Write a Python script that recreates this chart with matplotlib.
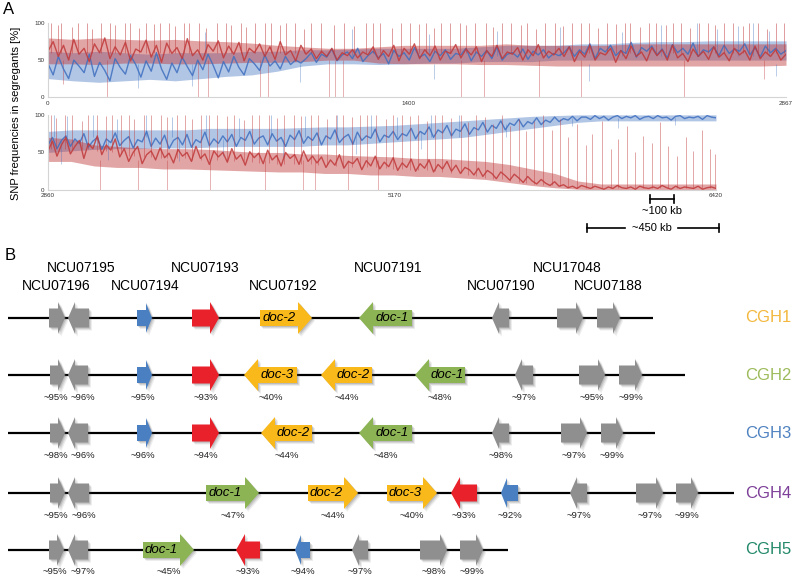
import numpy as np
import matplotlib
matplotlib.use('Agg')
import matplotlib.pyplot as plt
from matplotlib.patches import Polygon

plt.rcParams['font.family'] = ['Liberation Sans', 'DejaVu Sans']

# ---------------- PANEL A DATA ----------------
top_range = (0, 2867)
top_ticks = [0, 1400, 2867]
top_ticklabels = ['0', '1400', '2867']

# dense band of each trace (upper / lower edge)
top_red_hi = [80,78,80,78,77,78,76,75,73,70,68,66,66,68,70,70,70,70,72,70,70,70,70,72,72,72,72,72,72,72]
top_red_lo = [45,45,44,46,46,45,45,46,47,47,48,50,50,46,45,45,45,44,44,43,42,42,42,42,42,42,42,42,42,43]
top_blue_hi = [62,60,62,60,58,60,60,60,62,62,64,64,65,66,66,66,66,68,70,70,70,72,72,74,75,75,76,76,76,76]
top_blue_lo = [25,22,20,22,24,22,25,28,30,35,42,45,45,44,45,46,46,48,48,48,50,50,50,50,50,50,50,50,50,50]

top_red = [62,75,55,70,50,78,58,66,48,72,60,80,52,68,57,74,49,65,61,77,54,70,47,73,59,67,52,79,56,64,50,71,62,76,53,69,58,74,49,66,60,72,55,68,51,75,57,63,49,70,
           58,65,52,62,55,66,50,60,56,64,53,61,57,68,51,63,55,70,49,66,58,72,52,64,56,69,50,62,59,71,53,65,57,68,48,63,55,70,52,61,58,67,50,64,56,71,53,62,57,66,
           55,68,48,62,54,70,50,60,57,66,47,63,52,69,55,61,49,67,56,64,50,70,53,59,48,65,55,62,51,68,54,60,49,66,57,63,50,69,52,61,55,64,50,58]
top_blue = [45,30,55,38,25,50,42,33,58,28,47,36,22,52,40,31,56,44,27,49,35,60,38,24,46,33,54,41,29,50,37,58,43,26,48,34,55,40,30,52,45,36,57,42,49,38,55,44,50,46,
            52,60,47,58,54,65,49,57,61,52,66,48,56,62,53,59,45,63,55,60,50,67,54,58,48,62,56,64,51,59,57,66,49,61,55,63,52,68,50,58,60,54,65,51,62,57,64,53,59,56,
            60,68,55,64,58,72,52,66,61,70,56,63,59,74,54,67,62,69,57,65,53,71,60,66,58,73,55,64,61,68,56,70,59,65,62,72,57,67,54,69,60,66,58,63]

top_red_up_x = [12,38,52,95,118,150,172,205,240,262,300,318,352,380,410,436,470,492,530,548,
                585,612,655,690,712,748,770,805,842,866,900,925,960,995,1020,1060,1110,1150,1190,1235,
                1262,1290,1335,1372,1405,1440,1468,1500,1528,1562,1600,1625,1660,1702,1730,1765,1800,1838,1862,1895,
                1930,1968,2002,2035,2070,2100,2138,2170,2205,2240,2262,2300,2335,2362,2400,2428,2460,2495,2530,2565,
                2590,2625,2660,2700,2725,2760,2795,2830,2858]
top_red_up_top = [100,98,100,95,100,100,92,100,100,97,100,100,94,100,99,100,100,96,100,100,
                  100,93,100,100,98,100,95,100,100,100,97,100,100,92,100,100,98,100,96,100,
                  100,100,94,100,100,99,100,93,100,100,100,97,100,100,95,100,100,98,100,92,
                  100,100,96,100,100,100,94,100,99,100,100,95,100,100,98,100,100,93,100,100,
                  97,100,100,96,100,100,92,100,100]
top_red_up_base = 60
top_red_dn_x = [60, 228, 583, 622, 823, 854, 1093, 1116, 1147, 1603, 1692, 1909, 2071, 2469, 2780]
top_red_dn_bot = [18, 0, 0, 0, 0, 0, 0, 0, 0, 0, 0, 0, 0, 0, 25]
top_red_dn_base = 50
top_blue_up_x = [610, 1180, 1480, 1745, 1990, 2230, 2380, 2520, 2600, 2680, 2740, 2800]
top_blue_up_top = [88, 92, 85, 90, 95, 88, 97, 100, 92, 96, 100, 90]
top_blue_up_base = 55
top_blue_dn_x = [350, 560, 980, 1500, 2100, 2828]
top_blue_dn_bot = [12, 15, 20, 25, 22, 28]
top_blue_dn_base = 45

bot_range = (2860, 6420)
bot_ticks = [2860, 4710, 6420]
bot_ticklabels = ['2860', '5170', '6420']

bot_blue_hi = [78,80,80,80,80,80,80,82,82,82,82,83,84,84,85,86,88,90,92,94,96,98,99,100,100,100,100,100,100,100]
bot_blue_lo = [50,52,54,55,55,56,56,57,58,58,58,58,60,60,62,64,66,68,70,74,78,82,86,90,92,92,92,92,92,92]
bot_red_hi = [70,68,60,58,56,55,55,54,52,50,50,48,48,46,45,44,42,42,40,38,34,28,22,12,8,8,8,8,8,8]
bot_red_lo = [38,38,32,30,30,28,28,27,26,25,24,24,22,22,20,20,18,18,16,14,10,6,3,1,0,0,0,0,0,0]

bot_blue = [60,70,55,66,72,58,68,62,75,57,65,70,54,68,63,76,59,66,71,56,67,64,78,58,69,61,73,55,66,70,60,74,57,67,63,77,59,68,62,72,
            64,74,58,70,66,78,61,69,72,60,75,65,70,58,73,67,79,62,71,66,76,60,72,68,80,63,70,74,61,77,66,72,69,81,64,73,70,78,67,75,
            72,82,68,78,74,84,70,80,76,86,72,81,78,88,74,83,80,90,77,86,
            82,92,80,89,86,94,84,91,88,96,87,93,90,97,91,95,93,98,92,97,
            97,94,99,95,98,93,97,99,95,98,96,99,94,97,98,95,99,96,97,93,98,99,95,97,96,98,94,99,97,96]
bot_red = [52,65,45,60,70,48,58,66,42,62,55,72,47,60,53,68,
           44,55,38,50,58,35,47,52,40,56,43,49,36,54,45,50,38,58,42,48,34,52,44,50,37,55,41,47,33,51,43,49,35,53,40,46,32,50,42,47,34,52,38,45,
           36,44,30,40,33,47,29,38,35,42,27,39,32,45,28,37,31,43,26,36,30,41,25,35,29,40,24,34,28,38,
           25,33,22,30,27,20,29,18,26,22,15,24,19,13,21,16,10,18,12,8,14,9,6,11,5,
           7,3,5,2,6,4,2,5,3,1,4,2,6,3,2,4,1,5,3,2,4,2,6,3,1,5,2,4,3,2,5,1,3,4,2]

bot_red_up_x = [2875,2905,2950,2990,3040,3075,3120,3170,3200,3250,3290,3320,3370,3410,3460,3495,3545,3590,3625,3675,
                3720,3760,3815,3850,3905,3945,3985,4040,4080,4120,4170,4210,4260,4300,4345,4395,4430,4480,4525,4560,
                4610,4660,4700,4745,4790,4830,4880,4925,4960,5010,5060,5100,5140,5190,5230,5280,5320,5370,5410,5450,
                5500,5545,5590,5630,5680,5725,5760,5810,5860,5900,5945,5990,6030,6080,6120,6165,6210,6260,6300,6345,
                6390,6415]
bot_red_up_lo = [55,55,55,55,55,55,52,52,50,48,45,45,44,44,43,43,42,42,40,40,
                 40,40,38,38,38,37,36,36,35,35,35,34,34,33,33,32,32,31,30,30,
                 30,29,28,28,27,26,26,25,24,22,22,20,18,16,15,14,12,10,9,8,
                 7,6,5,4,3,3,2,2,2,2,2,2,2,2,2,2,2,2,2,2,
                 2,2]
bot_red_up_top = [100,96,100,100,92,100,100,98,100,100,100,94,100,100,100,97,100,100,95,100,
                  100,100,98,100,93,100,100,100,96,100,100,98,100,100,94,100,100,97,100,100,
                  100,95,100,100,98,100,92,100,100,96,100,90,100,97,88,100,85,95,78,92,
                  100,80,95,70,88,60,75,92,55,68,85,50,72,62,90,58,45,70,52,80,
                  55,48]
bot_red_dn_x = [3137, 3340, 3494, 3723, 4017, 4219, 4283, 4459, 4619]
bot_red_dn_base = 40
bot_blue_up_x = [2890, 2960, 3100, 3230, 3380, 3520, 3700, 3880, 4050, 4230, 4400, 4580, 4720, 4900, 5050]
bot_blue_up_top = [100, 98, 100, 95, 100, 97, 100, 96, 100, 98, 100, 100, 97, 100, 100]
bot_blue_up_base = 70
bot_blue_dn_x = [2930, 3180, 3560, 3790, 4110, 4500, 4850, 5300, 5650, 5900, 6200]
bot_blue_dn_bot = [35, 40, 38, 45, 42, 48, 55, 70, 85, 82, 86]
bot_blue_dn_top = [65, 65, 66, 68, 68, 72, 78, 88, 96, 96, 96]

# ---------------- PANEL B DATA ----------------
row_names = ['CGH1', 'CGH2', 'CGH3', 'CGH4', 'CGH5']
row_colors = ['#f3b83d', '#9dbb5b', '#4f82c0', '#7d3f98', '#23896a']
row_y = [318, 375, 433, 493, 550]
row_end = [653, 685, 655, 734, 508]

# (left, right, strand, kind, name, identity, identity label shift)
cgh1 = [(49, 65, 1, 'gray', '', '', 0), (68, 89, -1, 'gray', '', '', 0), (137, 152, 1, 'blue', '', '', 0),
        (192, 219, 1, 'red', '', '', 0), (260, 312, 1, 'yellow', 'doc-2', '', 0),
        (359, 412, -1, 'green', 'doc-1', '', 0), (492, 509, -1, 'gray', '', '', 0),
        (557, 583, 1, 'gray', '', '', 0), (597, 620, 1, 'gray', '', '', 0)]
cgh2 = [(50, 65, 1, 'gray', '', '~95%', -2), (68, 88, -1, 'gray', '', '~96%', 5), (137, 152, 1, 'blue', '', '~95%', -2),
        (192, 219, 1, 'red', '', '~93%', 0), (244, 297, -1, 'yellow', 'doc-3', '~40%', 0),
        (321, 372, -1, 'yellow', 'doc-2', '~44%', 0), (415, 465, -1, 'green', 'doc-1', '~48%', 0),
        (515, 533, -1, 'gray', '', '~97%', 0), (579, 605, 1, 'gray', '', '~95%', 0), (619, 642, 1, 'gray', '', '~99%', 0)]
cgh3 = [(50, 65, 1, 'gray', '', '~98%', -2), (68, 88, -1, 'gray', '', '~96%', 5), (137, 152, 1, 'blue', '', '~96%', -2),
        (192, 219, 1, 'red', '', '~94%', 0), (261, 312, -1, 'yellow', 'doc-2', '~44%', 0),
        (359, 412, -1, 'green', 'doc-1', '~48%', 0), (492, 509, -1, 'gray', '', '~98%', 0),
        (561, 587, 1, 'gray', '', '~97%', 0), (601, 623, 1, 'gray', '', '~99%', 0)]
cgh4 = [(50, 65, 1, 'gray', '', '~95%', -2), (68, 89, -1, 'gray', '', '~96%', 5), (206, 259, 1, 'green', 'doc-1', '~47%', 0),
        (308, 358, 1, 'yellow', 'doc-2', '~44%', 0), (387, 437, 1, 'yellow', 'doc-3', '~40%', 0),
        (451, 477, -1, 'red', '', '~93%', 0), (501, 518, -1, 'blue', '', '~92%', 0), (570, 587, -1, 'gray', '', '~97%', 0),
        (636, 663, 1, 'gray', '', '~97%', 0), (676, 698, 1, 'gray', '', '~99%', 0)]
cgh5 = [(49, 64, 1, 'gray', '', '~95%', -2), (68, 88, -1, 'gray', '', '~97%', 5), (143, 194, 1, 'green', 'doc-1', '~45%', 0),
        (236, 260, -1, 'red', '', '~93%', 0), (295, 310, -1, 'blue', '', '~94%', 0), (352, 368, -1, 'gray', '', '~97%', 0),
        (420, 447, 1, 'gray', '', '~98%', 0), (460, 483, 1, 'gray', '', '~99%', 0)]
rows = [cgh1, cgh2, cgh3, cgh4, cgh5]

gene_names = ['NCU07195', 'NCU07196', 'NCU07194', 'NCU07193', 'NCU07192', 'NCU07191', 'NCU07190', 'NCU17048', 'NCU07188']
gene_name_x = [81, 56, 145, 205, 283, 388, 501, 567, 608]
gene_name_y = [268, 286, 286, 268, 286, 268, 286, 268, 286]

# styles
fill = {'gray': '#8f8f8f', 'blue': '#4a7fc1', 'red': '#e8212b', 'yellow': '#f9b91b', 'green': '#8cb454'}
head_len = {'gray': 7, 'blue': 6, 'red': 9, 'yellow': 14, 'green': 14}
body_h = {'gray': 9.5, 'blue': 8, 'red': 8.5, 'yellow': 8, 'green': 8}
head_h = {'gray': 16, 'blue': 15, 'red': 16, 'yellow': 16, 'green': 16}
RED = '#c0393a'
BLUE = '#3e6fbf'

fig = plt.figure(figsize=(8, 5.78), dpi=100)


def snp_axes(rect, xr, ticks, labels):
    ax = fig.add_axes(rect)
    ax.set_xlim(*xr)
    ax.set_ylim(0, 100)
    for s in ['top', 'right']:
        ax.spines[s].set_visible(False)
    for s in ['left', 'bottom']:
        ax.spines[s].set_color('#d4d4d4')
        ax.spines[s].set_linewidth(0.8)
    ax.set_yticks([0, 50, 100])
    ax.set_xticks(ticks)
    ax.set_xticklabels(labels)
    ax.tick_params(length=0, labelsize=4.5, labelcolor='#333333', pad=2.5)
    return ax


def draw_snps(ax, xr, blue_lo, blue_hi, blue, red_lo, red_hi, red):
    xb = np.linspace(*xr, len(blue_lo))
    xr_ = np.linspace(*xr, len(red_lo))
    ax.fill_between(xb, blue_lo, blue_hi, color=BLUE, alpha=0.4, lw=0)
    ax.plot(np.linspace(*xr, len(blue)), blue, color=BLUE, lw=1.0, alpha=0.85)
    ax.fill_between(xr_, red_lo, red_hi, color=RED, alpha=0.45, lw=0)
    ax.plot(np.linspace(*xr, len(red)), red, color=RED, lw=1.0, alpha=0.85)


# Top half of chromosome
ax1 = snp_axes([0.06, 0.832, 0.9225, 0.128], top_range, top_ticks, top_ticklabels)
ax1.vlines(top_red_dn_x, top_red_dn_bot, top_red_dn_base, color=RED, lw=0.6, alpha=0.45)
ax1.vlines(top_blue_dn_x, top_blue_dn_bot, top_blue_dn_base, color=BLUE, lw=0.6, alpha=0.4)
ax1.vlines(top_blue_up_x, top_blue_up_base, top_blue_up_top, color=BLUE, lw=0.6, alpha=0.45)
draw_snps(ax1, top_range, top_blue_lo, top_blue_hi, top_blue, top_red_lo, top_red_hi, top_red)
ax1.vlines(top_red_up_x, top_red_up_base, top_red_up_top, color=RED, lw=0.7, alpha=0.5)

# Bottom half of chromosome
ax2 = snp_axes([0.06, 0.6713, 0.835, 0.13], bot_range, bot_ticks, bot_ticklabels)
ax2.vlines(bot_red_dn_x, 0, bot_red_dn_base, color=RED, lw=0.6, alpha=0.45)
ax2.vlines(bot_blue_dn_x, bot_blue_dn_bot, bot_blue_dn_top, color=BLUE, lw=0.6, alpha=0.4)
ax2.vlines(bot_blue_up_x, bot_blue_up_base, bot_blue_up_top, color=BLUE, lw=0.6, alpha=0.45)
draw_snps(ax2, bot_range, bot_blue_lo, bot_blue_hi, bot_blue, bot_red_lo, bot_red_hi, bot_red)
ax2.vlines(bot_red_up_x, bot_red_up_lo, bot_red_up_top, color=RED, lw=0.7, alpha=0.45)

# Overlay axes in pixel units for annotations and panel B
ov = fig.add_axes([0, 0, 1, 1])
ov.set_xlim(0, 800)
ov.set_ylim(578, 0)
ov.axis('off')
ov.patch.set_alpha(0)

ov.text(3, 10, 'A', fontsize=12, va='center', ha='left')
ov.text(5, 256, 'B', fontsize=12, va='center', ha='left')
ov.text(16, 113, 'SNP frequencies in segregants [%]', fontsize=8, rotation=90, ha='center', va='center')

# scale bars
ov.plot([650, 674], [199, 199], color='black', lw=1.2)
ov.plot([650, 650], [195, 203], color='black', lw=1.2)
ov.plot([674, 674], [195, 203], color='black', lw=1.2)
ov.text(662, 211, '~100 kb', fontsize=8, ha='center', va='center')
ov.plot([587, 625], [228, 228], color='black', lw=1.2)
ov.plot([678, 719], [228, 228], color='black', lw=1.2)
ov.plot([587, 587], [224, 232], color='black', lw=1.2)
ov.plot([719, 719], [224, 232], color='black', lw=1.2)
ov.text(652, 228, '~450 kb', fontsize=8, ha='center', va='center')


def gene_poly(x0, x1, strand, kind, y):
    hl, bh, hh = head_len[kind], body_h[kind], head_h[kind]
    if strand > 0:
        b = x1 - hl
        return [(x0, y - bh), (b, y - bh), (b, y - hh), (x1, y), (b, y + hh), (b, y + bh), (x0, y + bh)]
    b = x0 + hl
    return [(x1, y - bh), (b, y - bh), (b, y - hh), (x0, y), (b, y + hh), (b, y + bh), (x1, y + bh)]


for name, x, y in zip(gene_names, gene_name_x, gene_name_y):
    ov.text(x, y, name, fontsize=10, ha='center', va='center')

for genes, y, end, lab, col in zip(rows, row_y, row_end, row_names, row_colors):
    ov.plot([8, end], [y, y], color='black', lw=1.6, solid_capstyle='butt', zorder=1)
    for x0, x1, strand, kind, name, pct, dx in genes:
        pts = gene_poly(x0, x1, strand, kind, y)
        for d, a in [(3.0, 0.10), (2.0, 0.15), (1.0, 0.2)]:
            ov.add_patch(Polygon([(px + d, py + d) for px, py in pts], closed=True,
                                 facecolor='#555555', edgecolor='none', alpha=a, zorder=2))
        ov.add_patch(Polygon(pts, closed=True, facecolor=fill[kind], edgecolor='none', zorder=3))
        if name:
            hl = head_len[kind]
            cx = (x0 + x1 - hl) / 2 if strand > 0 else (x0 + hl + x1) / 2
            ov.text(cx, y, name, fontsize=9.5, style='italic', ha='center', va='center', zorder=4)
        if pct:
            ov.text((x0 + x1) / 2 + dx, y + 22, pct, fontsize=6.8, ha='center', va='center', color='#222222')
    ov.text(745, y, lab, fontsize=12, color=col, ha='left', va='center')

fig.savefig('out.png', dpi=100)
